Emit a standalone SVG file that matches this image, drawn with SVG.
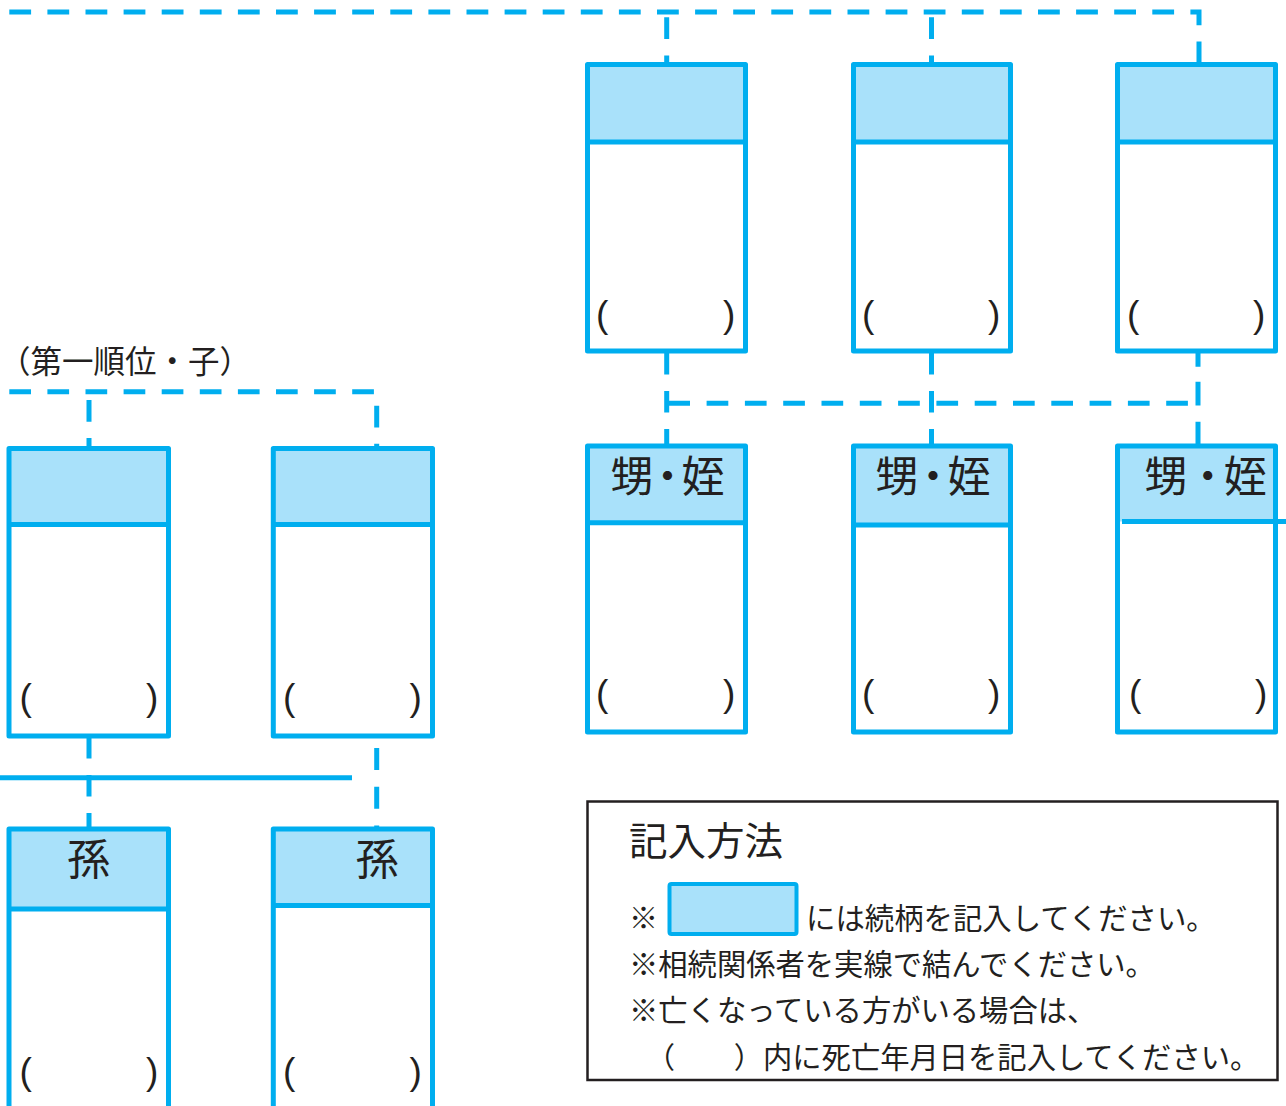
<svg xmlns="http://www.w3.org/2000/svg" width="1286" height="1106" viewBox="0 0 1286 1106">
<style>
.hdr{fill:#A9E1FA;stroke:none}
.box{fill:none;stroke:#00AEEF;stroke-width:5;stroke-linejoin:round}
.dv{stroke:#00AEEF;stroke-width:5}
.cn{fill:none;stroke:#00AEEF;stroke-width:5}
.dash{stroke-dasharray:21.8 16.3}
.par{font-family:"Liberation Sans",Arial,sans-serif;font-size:37px;fill:#231F20}
.lbl{font-family:"Noto Sans CJK JP","Noto Sans CJK SC",sans-serif;font-size:43px;fill:#231F20}
.tx{font-family:"Noto Sans CJK JP","Noto Sans CJK SC",sans-serif;fill:#231F20}
</style>
<rect width="1286" height="1106" fill="#fff"/>
<g id="connectors">
<path class="cn dash" d="M9.3,12 H1199 V63"/>
<path class="cn dash" d="M666.7,17.3 V63"/>
<path class="cn dash" d="M931.5,17.3 V63"/>
<path class="cn" style="stroke-dasharray:21.5 16.5" d="M666.7,353 V446"/>
<path class="cn" style="stroke-dasharray:21.5 16.5" d="M931.5,353 V446"/>
<path class="cn" style="stroke-dasharray:21.7 16.6" d="M668.3,403.3 H1196"/>
<path class="cn" d="M1198,353 V366.7 M1198,381.7 V405.5 M1198,421.7 V446"/>
<path class="cn" style="stroke-dasharray:21.7 16.4" d="M9.3,391.7 H374"/>
<path class="cn dash" d="M89,400 V447"/>
<path class="cn dash" d="M376.7,405.7 V447"/>
<path class="cn" style="stroke-dasharray:21.5 16.5" d="M89,737 V829"/>
<path class="cn" d="M0,777.7 H352"/>
<path class="cn" style="stroke-dasharray:22 16.7" d="M376.7,748 V829"/>
</g>
<g id="top1">
<rect class="hdr" x="587.5" y="64.5" width="158" height="77.5"/>
<rect class="box" x="587.5" y="64.5" width="158" height="286.5"/>
<line class="dv" x1="587.5" y1="142" x2="745.5" y2="142"/>
<text class="par" x="596" y="327">(</text><text class="par" x="723" y="327">)</text>
</g>
<g id="top2">
<rect class="hdr" x="853.5" y="64.5" width="157" height="77.5"/>
<rect class="box" x="853.5" y="64.5" width="157" height="286.5"/>
<line class="dv" x1="853.5" y1="142" x2="1010.5" y2="142"/>
<text class="par" x="862" y="327">(</text><text class="par" x="988" y="327">)</text>
</g>
<g id="top3">
<rect class="hdr" x="1117.5" y="64.5" width="158" height="77.5"/>
<rect class="box" x="1117.5" y="64.5" width="158" height="286.5"/>
<line class="dv" x1="1117.5" y1="142" x2="1275.5" y2="142"/>
<text class="par" x="1127" y="327">(</text><text class="par" x="1253" y="327">)</text>
</g>
<g id="nephew1">
<rect class="hdr" x="587.5" y="446" width="158" height="77"/>
<rect class="box" x="587.5" y="446" width="158" height="286"/>
<line class="dv" x1="587.5" y1="522.7" x2="745.5" y2="522.7"/>
<text class="lbl" x="610.5" y="492" letter-spacing="-7.5">甥・姪</text>
<text class="par" x="596" y="706">(</text><text class="par" x="723" y="706">)</text>
</g>
<g id="nephew2">
<rect class="hdr" x="853.5" y="446" width="157" height="79"/>
<rect class="box" x="853.5" y="446" width="157" height="286"/>
<line class="dv" x1="853.5" y1="525" x2="1010.5" y2="525"/>
<text class="lbl" x="875.5" y="492" letter-spacing="-7">甥・姪</text>
<text class="par" x="862" y="706">(</text><text class="par" x="988" y="706">)</text>
</g>
<g id="nephew3">
<rect class="hdr" x="1117.5" y="446" width="158" height="75.5"/>
<rect class="box" x="1117.5" y="446" width="158" height="286"/>
<line class="dv" x1="1122" y1="521.5" x2="1286" y2="521.5"/>
<text class="lbl" x="1144.5" y="492" letter-spacing="-5.5">甥 ・姪</text>
<text class="par" x="1129" y="706">(</text><text class="par" x="1255" y="706">)</text>
</g>
<text class="tx" x="-1" y="373" font-size="31.5">（第一順位・子）</text>
<g id="child1">
<rect class="hdr" x="9" y="448.5" width="159.5" height="76"/>
<rect class="box" x="9" y="448.5" width="159.5" height="287.5"/>
<line class="dv" x1="9" y1="524.5" x2="168.5" y2="524.5"/>
<text class="par" x="19.5" y="709.5">(</text><text class="par" x="146" y="709.5">)</text>
</g>
<g id="child2">
<rect class="hdr" x="273.3" y="448.5" width="159.2" height="76"/>
<rect class="box" x="273.3" y="448.5" width="159.2" height="287.5"/>
<line class="dv" x1="273.3" y1="524.5" x2="432.5" y2="524.5"/>
<text class="par" x="283" y="709.5">(</text><text class="par" x="409.5" y="709.5">)</text>
</g>
<g id="grand1">
<rect class="hdr" x="9" y="829" width="159.5" height="80"/>
<rect class="box" x="9" y="829" width="159.5" height="300"/>
<line class="dv" x1="9" y1="909" x2="168.5" y2="909"/>
<text class="lbl" x="88.5" y="875" font-size="42" text-anchor="middle">孫</text>
<text class="par" x="19.5" y="1084">(</text><text class="par" x="146" y="1084">)</text>
</g>
<g id="grand2">
<rect class="hdr" x="273.3" y="829" width="159.2" height="76.5"/>
<rect class="box" x="273.3" y="829" width="159.2" height="300"/>
<line class="dv" x1="273.3" y1="905.5" x2="432.5" y2="905.5"/>
<text class="lbl" x="377" y="875" font-size="42" text-anchor="middle">孫</text>
<text class="par" x="283" y="1084">(</text><text class="par" x="409.5" y="1084">)</text>
</g>
<g id="legend">
<rect x="587.5" y="801.5" width="690" height="278.5" fill="none" stroke="#231F20" stroke-width="2.5"/>
<text class="tx" x="629" y="855" font-size="38.5">記入方法</text>
<text class="tx" x="629" y="929" font-size="29">※</text>
<rect x="669.5" y="884" width="127" height="50" rx="2" fill="#A9E1FA" stroke="#00AEEF" stroke-width="4"/>
<text class="tx" x="806" y="929" font-size="29.4">には続柄を記入してください。</text>
<text class="tx" x="629" y="975" font-size="29.3">※相続関係者を実線で結んでください。</text>
<text class="tx" x="629" y="1021" font-size="29.3">※亡くなっている方がいる場合は、</text>
<text class="tx" x="645.8" y="1068" font-size="29.3">（　　）内に死亡年月日を記入してください。</text>
</g>
</svg>
